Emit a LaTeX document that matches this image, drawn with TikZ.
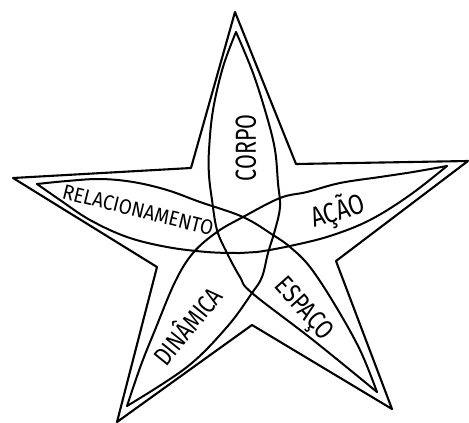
\documentclass[tikz,border=0pt]{standalone}
\usepackage{fontspec}
\newfontfamily\hand{Fira Sans}
\begin{document}
\begin{tikzpicture}[x=1pt,y=-1pt,line join=round,line cap=round,
  outline/.style={line width=2.1pt},
  petal/.style={line width=2pt},
  lbl/.style={font=\hand,inner sep=0pt}]
\useasboundingbox (0,0) rectangle (469,423);
% outer star
\coordinate (T) at (235,12);
\coordinate (iTR) at (296,164);
\coordinate (R) at (468,161);
\coordinate (iR) at (336,261);
\coordinate (BR) at (392,409);
\coordinate (iB) at (252,325);
\coordinate (BL) at (117,422);
\coordinate (iBL) at (157,267);
\coordinate (L) at (13,178);
\coordinate (iTL) at (191,168);
\draw[outline] (T) -- (iTR) -- (R) -- (iR) -- (BR) -- (iB) -- (BL) -- (iBL) -- (L) -- (iTL) -- cycle;
% inner tips
\coordinate (tT) at (236,32);
\coordinate (tR) at (447,166);
\coordinate (tBR) at (377,392);
\coordinate (tBL) at (127,406);
\coordinate (tL) at (37,184);
% curve 1: top -> bottom right
\draw[petal] plot[smooth,tension=0.6] coordinates {(tT) (223,67) (213,110) (209,150) (209,175) (212,200) (217,230) (227,253) (240,277) (252,293) (313,340) (tBR)};
% curve 2: top -> bottom left
\draw[petal] plot[smooth,tension=0.6] coordinates {(tT) (253,73) (267,117) (275,150) (278,183) (280,207) (275,230) (268,253) (262,277) (252,293) (227,327) (187,367) (tBL)};
% curve 3: left -> bottom right
\draw[petal] plot[smooth,tension=0.6] coordinates {(tL) (67,181) (100,179) (133,182) (167,190) (200,202) (243,217) (273,235) (290,247) (310,267) (335,305) (360,350) (tBR)};
% curve 4: left -> right
\draw[petal] plot[smooth,tension=0.6] coordinates {(tL) (60,200) (90,220) (127,237) (167,247) (207,252) (240,253) (257,252) (290,246) (330,236) (370,220) (410,195) (tR)};
% curve 5: right -> bottom left
\draw[petal] plot[smooth,tension=0.6] coordinates {(tR) (413,172) (380,177) (340,183) (307,192) (280,198) (243,217) (217,232) (193,253) (175,282) (155,330) (141,365) (tBL)};
% labels
\node[lbl,rotate=90] (corpo) at (246,148) {\fontsize{29}{29}\selectfont\scalebox{0.74}[1]{CORPO}};
\node[lbl,rotate=-14] (rel) at (138,210) {\fontsize{21}{21}\selectfont\scalebox{0.9}[1]{RELACIONAMENTO}};
\node[lbl,rotate=17] (acao) at (338,211) {\fontsize{28}{28}\selectfont\scalebox{0.82}[1]{AÇÃO}};
\node[lbl,rotate=-48] (espaco) at (303,310) {\fontsize{27}{27}\selectfont\scalebox{0.8}[1]{ESPAÇO}};
\node[lbl,rotate=51] (dinamica) at (186,325) {\fontsize{26}{26}\selectfont\scalebox{0.8}[1]{DINÂMICA}};
\end{tikzpicture}
\end{document}
